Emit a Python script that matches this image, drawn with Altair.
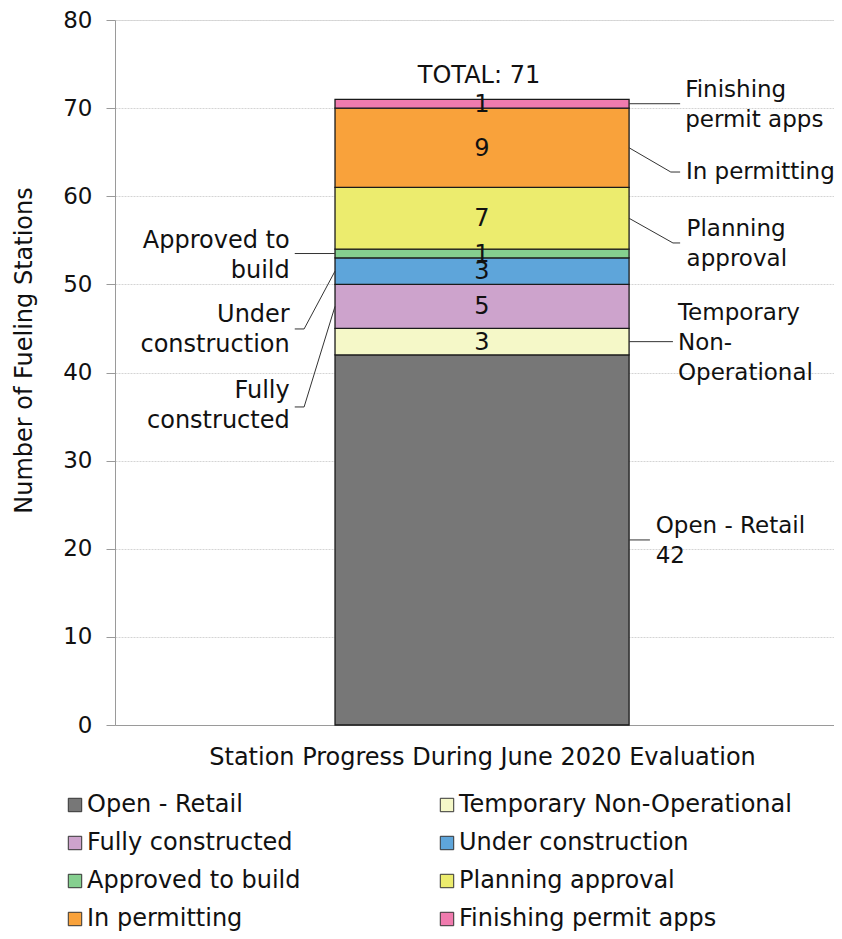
import altair as alt
import pandas as pd

# ---- data ----
categories = ["Open - Retail", "Temporary Non-Operational", "Fully constructed",
              "Under construction", "Approved to build", "Planning approval",
              "In permitting", "Finishing permit apps"]
counts = [42, 3, 5, 3, 1, 7, 9, 1]
colors = ["#777777", "#f5f8c8", "#cda3cc", "#5ea5da", "#85cf8f", "#ecec6e",
          "#f9a23b", "#f07bae"]
x_title = "Station Progress During June 2020 Evaluation"
y_title = "Number of Fueling Stations"
total_label = "TOTAL: 71"

# annotation text and anchors (x in 0..1 of plot width, y in station units)
right_labels = ["Finishing\npermit  apps", "In permitting", "Planning\napproval",
                "Temporary\nNon-\nOperational", "Open - Retail\n42"]
right_cats = ["Finishing permit apps", "In permitting", "Planning approval",
              "Temporary Non-Operational", "Open - Retail"]
right_text_y = [72.1, 62.7, 56.3, 46.8, 22.6]      # first text line
right_elbow_y = [70.5, 62.75, 54.7, 43.5, 21.0]
right_elbow_x = [0.786, 0.773, 0.776, 0.776, 0.744]
right_end_x = [0.786, 0.786, 0.786, 0.776, 0.744]
right_text_x = [0.793, 0.794, 0.795, 0.783, 0.752]

left_labels = ["Approved to\nbuild", "Under\nconstruction", "Fully\nconstructed"]
left_cats = ["Approved to build", "Under construction", "Fully constructed"]
left_text_y = [54.95, 46.55, 37.9]
left_elbow_y = [53.5, 44.94, 36.09]
left_elbow_x = [0.250, 0.263, 0.263]
left_end_x = [0.250, 0.250, 0.250]
left_text_x = 0.243

BAR_L, BAR_R, BAR_C = 0.306, 0.715, 0.5104
FONT = "DejaVu Sans"
FS = 24

# ---- tables ----
y0, y1, acc = [], [], 0
for c in counts:
    y0.append(acc)
    acc += c
    y1.append(acc)
mid = {cat: (a + b) / 2 for cat, a, b in zip(categories, y0, y1)}

bars = pd.DataFrame({"status": categories, "count": counts, "y0": y0, "y1": y1,
                     "x0": BAR_L, "x1": BAR_R, "xc": BAR_C,
                     "mid": [mid[c] for c in categories]})

rows = []
def add_leader(key, x_bar, cat, ex, ey, endx):
    pts = [(x_bar, mid[cat]), (ex, ey)]
    if abs(endx - ex) > 1e-6:
        pts.append((endx, ey))
    for j, (px, py) in enumerate(pts):
        rows.append({"id": key, "o": j, "x": px, "y": py})

for i in range(len(right_cats)):
    add_leader("r%d" % i, BAR_R, right_cats[i], right_elbow_x[i], right_elbow_y[i], right_end_x[i])
for i in range(len(left_cats)):
    add_leader("l%d" % i, BAR_L, left_cats[i], left_elbow_x[i], left_elbow_y[i], left_end_x[i])
leaders = pd.DataFrame(rows)

rtext = pd.DataFrame({"t": right_labels, "x": right_text_x, "y": right_text_y})
ltext = pd.DataFrame({"t": left_labels, "x": left_text_x, "y": left_text_y})

xscale = alt.Scale(domain=[0, 1])
yscale = alt.Scale(domain=[0, 80])

bar = alt.Chart(bars).mark_bar(stroke="#1a1a1a", strokeWidth=1.3).encode(
    x=alt.X("x0:Q", scale=xscale,
            axis=alt.Axis(title=x_title, labels=False, ticks=False, grid=False,
                          domainColor="#9a9a9a", titleFont=FONT, titleFontSize=FS,
                          titleFontWeight="normal", titleColor="#111",
                          titleX=367, titleY=32, titleBaseline="middle")),
    x2="x1:Q",
    y=alt.Y("y0:Q", scale=yscale,
            axis=alt.Axis(title=y_title, values=list(range(0, 81, 10)),
                          gridColor="#d4d4d4", gridDash=[2, 1], tickSize=9,
                          tickColor="#9a9a9a", domainColor="#9a9a9a",
                          labelFont=FONT, labelFontSize=23, labelColor="#111",
                          labelPadding=14, titleFont=FONT, titleFontSize=FS,
                          titleFontWeight="normal", titleColor="#111",
                          titleX=-91, titleY=330, titleBaseline="middle")),
    y2="y1:Q",
    color=alt.Color("status:N", scale=alt.Scale(domain=categories, range=colors),
                    legend=alt.Legend(title=None, orient="none", legendX=-52,
                                      legendY=773, columns=2, direction="horizontal",
                                      columnPadding=134, rowPadding=14,
                                      labelFont=FONT, labelLimit=500,
                                      labelFontSize=FS, labelColor="#111",
                                      symbolType="square", symbolSize=180,
                                      symbolStrokeColor="#333", symbolStrokeWidth=1,
                                      labelOffset=0, padding=0)),
)

vals = alt.Chart(bars).transform_filter(alt.datum.status != "Open - Retail").mark_text(
    font=FONT, fontSize=FS, color="#111", baseline="middle", dy=1).encode(
    x=alt.X("xc:Q", scale=xscale), y=alt.Y("mid:Q", scale=yscale), text="count:Q")

total = alt.Chart(pd.DataFrame({"t": [total_label], "x": [BAR_C], "y": [acc]})).mark_text(
    font=FONT, fontSize=FS, color="#111", baseline="middle", dy=-23, dx=-3).encode(
    x=alt.X("x:Q", scale=xscale), y=alt.Y("y:Q", scale=yscale), text="t:N")

lines = alt.Chart(leaders).mark_line(color="#333", strokeWidth=1).encode(
    x=alt.X("x:Q", scale=xscale), y=alt.Y("y:Q", scale=yscale),
    detail="id:N", order="o:Q")

rt = alt.Chart(rtext).mark_text(font=FONT, fontSize=23, color="#111", align="left",
                               baseline="middle", lineBreak="\n", lineHeight=30).encode(
    x=alt.X("x:Q", scale=xscale), y=alt.Y("y:Q", scale=yscale), text="t:N")

lt = alt.Chart(ltext).mark_text(font=FONT, fontSize=FS, color="#111", align="right",
                               baseline="middle", lineBreak="\n", lineHeight=30).encode(
    x=alt.X("x:Q", scale=xscale), y=alt.Y("y:Q", scale=yscale), text="t:N")

chart = alt.layer(bar, lines, vals, total, rt, lt).properties(
    width=719, height=705,
    autosize=alt.AutoSizeParams(type="none"),
    padding={"left": 107, "top": 12, "right": 0, "bottom": 206},
).configure_view(stroke=None).configure(font=FONT)

chart.save("out.html", embed_options={"renderer": "svg", "actions": False})
